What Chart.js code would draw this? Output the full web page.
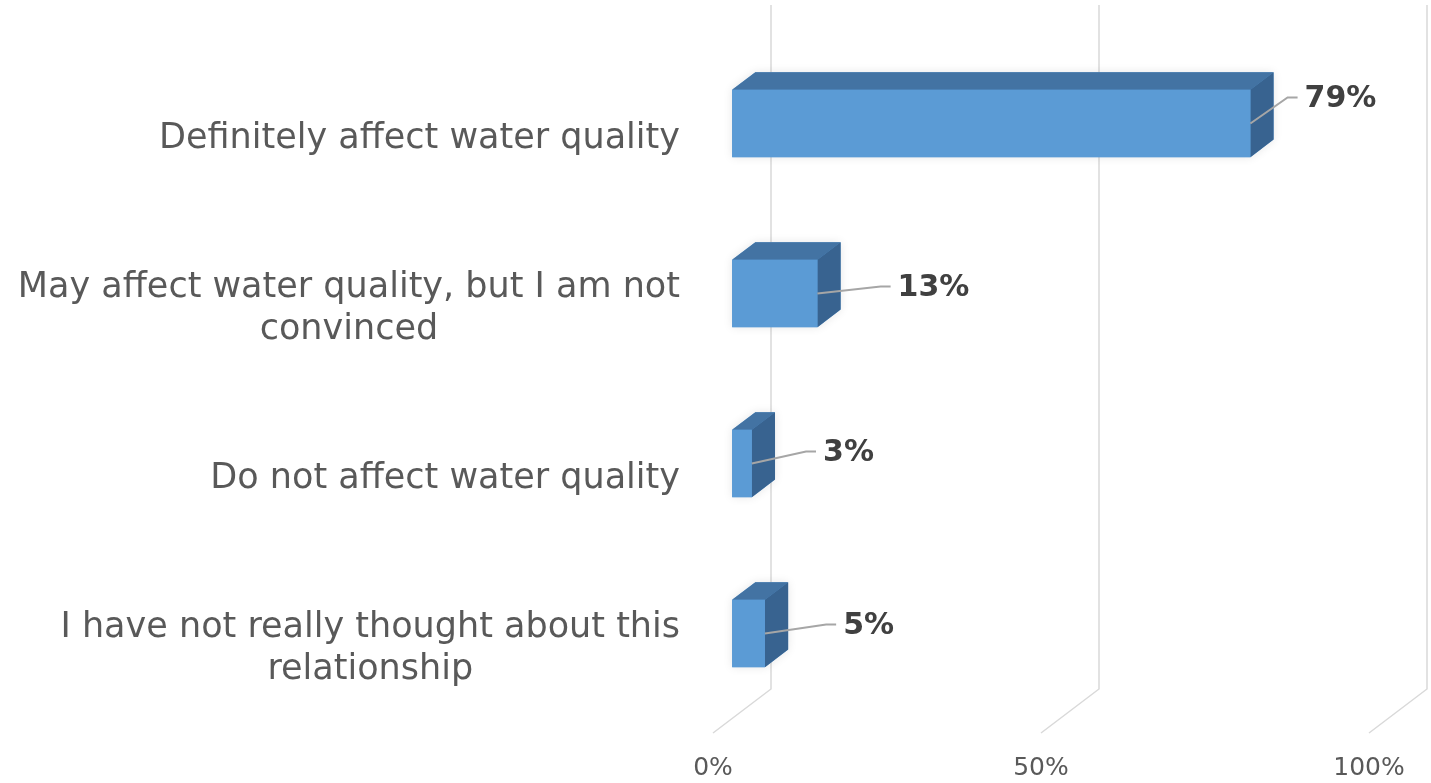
<!DOCTYPE html>
<html lang="en">
<head>
<meta charset="utf-8">
<title>Effect on water quality</title>
<script src="https://cdn.jsdelivr.net/npm/chart.js@4.4.1/dist/chart.umd.min.js"></script>
<style>
  html, body { margin: 0; padding: 0; background: #ffffff; }
  #wrap { width: 1431px; height: 783px; }
</style>
</head>
<body>
<div id="wrap"><canvas id="chart"></canvas></div>
<script>
// Data
const categories = [
    ['Definitely affect water quality'],
    ['May affect water quality, but I am not', 'convinced'],
    ['Do not affect water quality'],
    ['I have not really thought about this', 'relationship']
];
const shares = [79, 13, 3, 5];
const tickValues = [0, 50, 100];

const FONT = "'DejaVu Sans', Verdana, sans-serif";

// 3D look: depth of the floor, and where the bars sit inside that depth (0 = front, 1 = back wall)
const DEPTH = { dx: 58, dy: 44 };
const BAR_Z = [0.33, 0.73];

// hand placed data labels (offset from the back right edge of each bar)
const LABEL_NUDGE = [[31, -24], [57, -5], [48, -10], [55, -7]];

const bars3d = {
    id: 'bars3d',
    beforeDatasetsDraw(chart) {
        const { ctx, chartArea, scales } = chart;
        const xs = scales.x;
        const ys = scales.y;
        ctx.save();

        // gridlines: floor diagonal then up the back wall
        ctx.strokeStyle = '#d9d9d9';
        ctx.lineWidth = 1.5;
        xs.ticks.forEach(t => {
            const fx = xs.getPixelForValue(t.value);
            const fy = chartArea.bottom;
            ctx.beginPath();
            ctx.moveTo(fx, fy);
            ctx.lineTo(fx + DEPTH.dx, fy - DEPTH.dy);
            ctx.lineTo(fx + DEPTH.dx, chartArea.top - DEPTH.dy - 4);
            ctx.stroke();
        });

        // bars as boxes
        const meta = chart.getDatasetMeta(0);
        const fdx = DEPTH.dx * BAR_Z[0], fdy = DEPTH.dy * BAR_Z[0];
        const ddx = DEPTH.dx * (BAR_Z[1] - BAR_Z[0]), ddy = DEPTH.dy * (BAR_Z[1] - BAR_Z[0]);
        const boxes = [];
        meta.data.forEach((bar, i) => {
            const p = bar.getProps(['x', 'y', 'base', 'height'], true);
            const left = Math.min(p.base, p.x) + fdx;
            const right = Math.max(p.base, p.x) + fdx;
            const top = p.y - p.height / 2 - fdy;
            const bottom = p.y + p.height / 2 - fdy;
            boxes.push({ left, right, top, bottom, i });

            // soft halo round the box
            ctx.save();
            ctx.shadowColor = 'rgba(0,0,0,0.10)';
            ctx.shadowBlur = 10;
            ctx.fillStyle = '#5b9bd5';
            ctx.beginPath();
            ctx.moveTo(left, bottom);
            ctx.lineTo(left, top);
            ctx.lineTo(left + ddx, top - ddy);
            ctx.lineTo(right + ddx, top - ddy);
            ctx.lineTo(right + ddx, bottom - ddy);
            ctx.lineTo(right, bottom);
            ctx.closePath();
            ctx.fill();
            ctx.restore();

            // top face
            ctx.fillStyle = '#4373a3';
            ctx.beginPath();
            ctx.moveTo(left, top);
            ctx.lineTo(left + ddx, top - ddy);
            ctx.lineTo(right + ddx, top - ddy);
            ctx.lineTo(right, top);
            ctx.closePath();
            ctx.fill();

            // side face
            ctx.fillStyle = '#386390';
            ctx.beginPath();
            ctx.moveTo(right, top);
            ctx.lineTo(right + ddx, top - ddy);
            ctx.lineTo(right + ddx, bottom - ddy);
            ctx.lineTo(right, bottom);
            ctx.closePath();
            ctx.fill();

            // front face
            ctx.fillStyle = '#5b9bd5';
            ctx.fillRect(left, top, right - left, bottom - top);
        });

        // category labels, lines centred on each other, block right aligned
        ctx.font = '35px ' + FONT;
        ctx.fillStyle = '#595959';
        ctx.textBaseline = 'middle';
        ctx.textAlign = 'center';
        const lineH = 42;
        const rightEdge = chartArea.left - 33;
        categories.forEach((lines, i) => {
            const cy = ys.getPixelForValue(i) + 1;
            const w = Math.max(...lines.map(l => ctx.measureText(l).width));
            const cx = rightEdge - w / 2;
            lines.forEach((l, k) => {
                ctx.fillText(l, cx, cy + (k - (lines.length - 1) / 2) * lineH);
            });
        });

        // data labels with leader lines
        ctx.font = 'bold 30px ' + FONT;
        ctx.textAlign = 'left';
        boxes.forEach(b => {
            const ax = b.right;
            const ay = (b.top + b.bottom) / 2;
            const lx = b.right + ddx + LABEL_NUDGE[b.i][0];
            const ly = ay + LABEL_NUDGE[b.i][1];
            ctx.strokeStyle = '#a6a6a6';
            ctx.lineWidth = 2;
            ctx.beginPath();
            ctx.moveTo(ax, ay);
            ctx.lineTo(lx - 17, ly - 2);
            ctx.lineTo(lx - 7, ly - 2);
            ctx.stroke();
            ctx.fillStyle = '#404040';
            ctx.fillText(shares[b.i] + '%', lx, ly);
        });

        ctx.restore();
        return false; // the boxes replace the flat bars
    }
};

const chart = new Chart(document.getElementById('chart'), {
    type: 'bar',
    data: {
        labels: categories,
        datasets: [{
            data: shares,
            backgroundColor: '#5b9bd5',
            barPercentage: 0.396,
            categoryPercentage: 1
        }]
    },
    options: {
        indexAxis: 'y',
        responsive: true,
        maintainAspectRatio: false,
        animation: false,
        layout: { padding: { left: 713, right: 62, top: 53, bottom: -20 } },
        plugins: {
            legend: { display: false },
            tooltip: { enabled: false }
        },
        scales: {
            x: {
                min: 0,
                max: 100,
                afterBuildTicks: scale => { scale.ticks = tickValues.map(v => ({ value: v })); },
                grid: { display: false, drawTicks: false },
                border: { display: false },
                ticks: {
                    padding: 20,
                    color: '#595959',
                    font: { family: FONT, size: 25 },
                    maxRotation: 0,
                    callback: v => v + '%'
                }
            },
            y: {
                display: false
            }
        }
    },
    plugins: [bars3d]
});
</script>
</body>
</html>
